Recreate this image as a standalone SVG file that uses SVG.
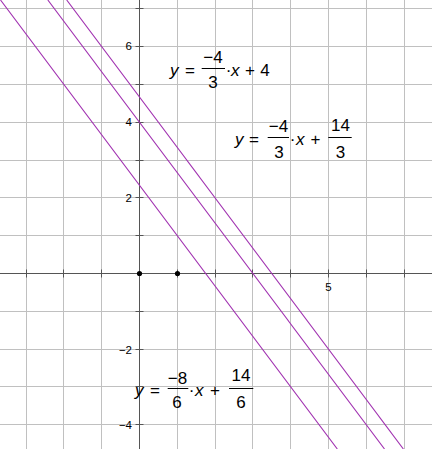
<svg xmlns="http://www.w3.org/2000/svg" width="432" height="449" viewBox="0 0 432 449">
<style>
.grid{stroke:#c0c0c0;stroke-width:1;fill:none}
.axis{stroke:#555;stroke-width:1;fill:none}
.fn{stroke:#a030b0;stroke-width:1.1;fill:none}
.lbl{font-family:"Liberation Sans",Arial,sans-serif;font-size:11.5px;fill:#000}
.eq{font-family:"Liberation Sans",Arial,sans-serif;font-size:17px;fill:#000}
.it{font-style:italic}
.mid{text-anchor:middle}
.bar{stroke:#000;stroke-width:1}
</style>
<rect width="432" height="449" fill="#fff"/>
<g id="grid">
<path class="grid" d="M26.5 0V449M63.5 0V449M101.5 0V449M177.5 0V449M215.5 0V449M252.5 0V449M290.5 0V449M328.5 0V449M366.5 0V449M404.5 0V449"/>
<path class="grid" d="M0 8.5H432M0 46.5H432M0 84.5H432M0 122.5H432M0 160.5H432M0 197.5H432M0 235.5H432M0 311.5H432M0 349.5H432M0 386.5H432M0 424.5H432"/>
</g>
<g id="axes">
<path class="axis" d="M0 273.5H432M139.5 0V449"/>
<path class="axis" d="M26.5 269.5v8M63.5 269.5v8M101.5 269.5v8M177.5 269.5v8M215.5 269.5v8M252.5 269.5v8M290.5 269.5v8M328.5 269.5v8M366.5 269.5v8M404.5 269.5v8"/>
<path class="axis" d="M135.5 8.5h8M135.5 46.5h8M135.5 84.5h8M135.5 122.5h8M135.5 160.5h8M135.5 197.5h8M135.5 235.5h8M135.5 311.5h8M135.5 349.5h8M135.5 386.5h8M135.5 424.5h8"/>
<text class="lbl" x="132" y="50" text-anchor="end">6</text>
<text class="lbl" x="132" y="126" text-anchor="end">4</text>
<text class="lbl" x="132" y="201.5" text-anchor="end">2</text>
<text class="lbl" x="132" y="353.5" text-anchor="end">−2</text>
<text class="lbl" x="132" y="428.5" text-anchor="end">−4</text>
<text class="lbl" x="328.5" y="291" text-anchor="middle">5</text>
</g>
<g id="connectors">
<line class="fn" x1="47.8" y1="0" x2="384.5" y2="449"/>
<line class="fn" x1="66.7" y1="0" x2="403.4" y2="449"/>
<line class="fn" x1="0.5" y1="0" x2="337.3" y2="449"/>
</g>
<g id="points">
<circle cx="139.5" cy="273.5" r="2.6" fill="#000"/>
<circle cx="177.5" cy="273.5" r="2.6" fill="#000"/>
</g>
<g id="eq1">
<text class="eq it" x="170" y="76">y</text>
<text class="eq mid" x="190" y="76">=</text>
<line class="bar" x1="201.7" y1="68.5" x2="225" y2="68.5"/>
<text class="eq mid" x="213" y="63">−4</text>
<text class="eq mid" x="213" y="88">3</text>
<text class="eq mid" x="228.5" y="76">·</text>
<text class="eq it" x="231" y="76">x</text>
<text class="eq mid" x="250" y="76">+</text>
<text class="eq mid" x="265" y="76">4</text>
</g>
<g id="eq2">
<text class="eq it" x="235" y="145">y</text>
<text class="eq mid" x="254" y="145">=</text>
<line class="bar" x1="267.7" y1="137.5" x2="289" y2="137.5"/>
<text class="eq mid" x="278.5" y="132.3">−4</text>
<text class="eq mid" x="279" y="157.7">3</text>
<text class="eq mid" x="292.7" y="145">·</text>
<text class="eq it" x="296" y="145">x</text>
<text class="eq mid" x="315.5" y="145">+</text>
<line class="bar" x1="328.3" y1="137.5" x2="351.7" y2="137.5"/>
<text class="eq mid" x="340.5" y="130.5">14</text>
<text class="eq mid" x="340.5" y="157.7">3</text>
</g>
<g id="eq3">
<text class="eq it" x="135" y="396">y</text>
<text class="eq mid" x="155" y="396">=</text>
<line class="bar" x1="167.7" y1="388.5" x2="188.3" y2="388.5"/>
<text class="eq mid" x="177.5" y="384">−8</text>
<text class="eq mid" x="177" y="408.3">6</text>
<text class="eq mid" x="191.7" y="396">·</text>
<text class="eq it" x="195" y="396">x</text>
<text class="eq mid" x="215" y="396">+</text>
<line class="bar" x1="229" y1="388.5" x2="253.3" y2="388.5"/>
<text class="eq mid" x="241" y="380.7">14</text>
<text class="eq mid" x="241" y="408.3">6</text>
</g>
</svg>
